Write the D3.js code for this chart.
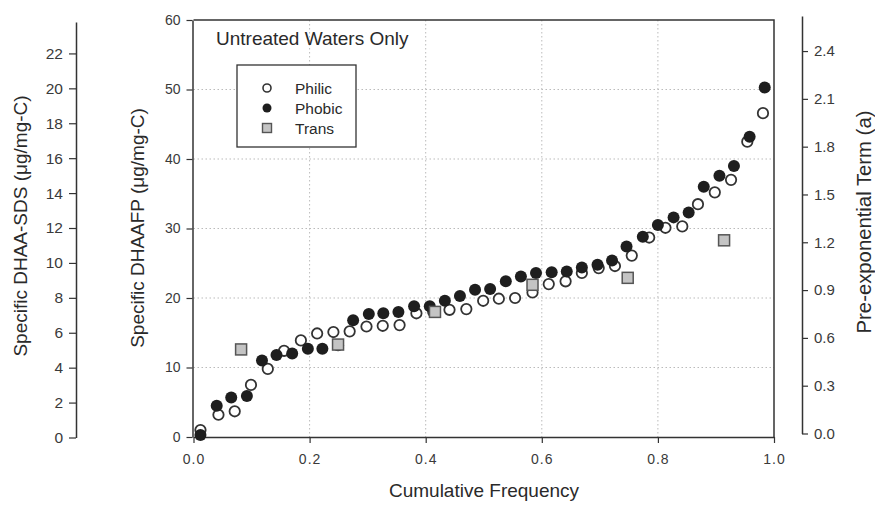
<!DOCTYPE html>
<html>
<head>
<meta charset="utf-8">
<script src="https://cdn.jsdelivr.net/npm/d3@7"></script>
<style>
  body { margin: 0; background: #fff; }
  svg { display: block; font-family: "Liberation Sans", Arial, sans-serif; }
</style>
</head>
<body>
<svg id="chart"></svg>
<script>
// [cumulative frequency, specific DHAAFP]
const philic = [
  [0.012, 1.0], [0.043, 3.2], [0.071, 3.7], [0.099, 7.5], [0.128, 9.8],
  [0.156, 12.4], [0.185, 13.9], [0.213, 14.9], [0.241, 15.1], [0.269, 15.2],
  [0.298, 15.9], [0.326, 16.0], [0.355, 16.1], [0.384, 17.8], [0.413, 18.0],
  [0.441, 18.3], [0.470, 18.4], [0.499, 19.6], [0.526, 19.9], [0.554, 20.0],
  [0.584, 20.8], [0.612, 22.0], [0.641, 22.4], [0.669, 23.6], [0.698, 24.3],
  [0.726, 24.6], [0.755, 26.1], [0.785, 28.7], [0.813, 30.1], [0.842, 30.3],
  [0.869, 33.5], [0.898, 35.2], [0.926, 37.0], [0.954, 42.5], [0.981, 46.6]
];
const phobic = [
  [0.012, 0.3], [0.040, 4.5], [0.065, 5.7], [0.092, 5.9], [0.118, 11.0],
  [0.143, 11.8], [0.170, 12.0], [0.197, 12.7], [0.222, 12.7], [0.249, 13.2],
  [0.275, 16.8], [0.302, 17.7], [0.327, 17.8], [0.353, 18.0], [0.380, 18.8],
  [0.407, 18.8], [0.433, 19.6], [0.459, 20.3], [0.485, 21.2], [0.511, 21.3],
  [0.538, 22.4], [0.564, 23.1], [0.590, 23.6], [0.617, 23.7], [0.643, 23.8],
  [0.669, 24.4], [0.696, 24.8], [0.721, 25.4], [0.746, 27.4], [0.774, 28.8],
  [0.800, 30.5], [0.827, 31.6], [0.853, 32.3], [0.879, 36.0], [0.906, 37.6],
  [0.931, 39.0], [0.958, 43.2], [0.984, 50.3]
];
const trans = [
  [0.082, 12.6], [0.249, 13.3], [0.416, 18.0], [0.584, 21.9], [0.748, 22.9], [0.914, 28.3]
];

const xTicks = [0, 0.2, 0.4, 0.6, 0.8, 1.0];
const yTicks = [0, 10, 20, 30, 40, 50, 60];
const sdsTicks = [0, 2, 4, 6, 8, 10, 12, 14, 16, 18, 20, 22];
const aTicks = [0, 0.3, 0.6, 0.9, 1.2, 1.5, 1.8, 2.1, 2.4];
const legendItems = ['Philic', 'Phobic', 'Trans'];

const width = 875, height = 505;
const ink = '#333';
const textInk = '#2a2a2a';

const svg = d3.select('#chart').attr('width', width).attr('height', height);

const x = d3.scaleLinear().domain([0, 1]).range([193.5, 774]);
const y = d3.scaleLinear().domain([0, 60]).range([437, 20]);
const ySds = d3.scaleLinear().domain([0, 23.8]).range([437.5, 22]);
const yA = d3.scaleLinear().domain([0, 2.62]).range([433.5, 16]);

// grid lines (dotted)
const grid = svg.append('g').attr('stroke', '#bbb').attr('stroke-dasharray', '1.5,2.5').attr('stroke-width', 1);
grid.selectAll('.gx').data(xTicks.slice(1, -1)).join('line')
  .attr('x1', d => x(d)).attr('x2', d => x(d)).attr('y1', y(60)).attr('y2', y(0));
grid.selectAll('.gy').data(yTicks.slice(1, -1)).join('line')
  .attr('x1', x(0)).attr('x2', x(1)).attr('y1', d => y(d)).attr('y2', d => y(d));

// frame top/right
svg.append('path')
  .attr('d', `M${x(0)},${y(60)}H${x(1)}V${y(0)}`)
  .attr('fill', 'none').attr('stroke', ink).attr('stroke-width', 1.5);

function styleAxis(g, size, spacing) {
  g.select('.domain').attr('stroke', ink).attr('stroke-width', 1.5);
  g.selectAll('.tick line').attr('stroke', ink).attr('stroke-width', 1.2);
  g.selectAll('.tick text').attr('fill', '#3a3a3a').attr('font-size', size + 'px')
    .attr('letter-spacing', spacing || null);
}

// bottom axis
svg.append('g')
  .attr('transform', `translate(0,${y(0)})`)
  .call(d3.axisBottom(x).tickValues(xTicks).tickFormat(d3.format('.1f')).tickSize(6).tickSizeOuter(0).tickPadding(11))
  .attr('font-family', null)
  .call(styleAxis, 14, '1px');

// main left axis
svg.append('g')
  .attr('transform', `translate(${x(0) - 1},0)`)
  .call(d3.axisLeft(y).tickValues(yTicks).tickSize(6).tickSizeOuter(0).tickPadding(6))
  .attr('font-family', null)
  .call(styleAxis, 14);

// outer left axis
svg.append('g')
  .attr('transform', 'translate(76,0)')
  .call(d3.axisLeft(ySds).tickValues(sdsTicks).tickSize(7).tickSizeOuter(0).tickPadding(6))
  .attr('font-family', null)
  .call(styleAxis, 15.5);

// right axis
svg.append('g')
  .attr('transform', 'translate(802,0)')
  .call(d3.axisRight(yA).tickValues(aTicks).tickFormat(d3.format('.1f')).tickSize(6).tickSizeOuter(0).tickPadding(6))
  .attr('font-family', null)
  .call(styleAxis, 15);

// axis titles
const title = (tx, ty, rot, txt, size) => svg.append('text')
  .attr('transform', `translate(${tx},${ty}) rotate(${rot})`)
  .attr('text-anchor', 'middle').attr('font-size', (size || 19) + 'px').attr('fill', textInk)
  .text(txt);
title(484, 497, 0, 'Cumulative Frequency');
title(27, 226, -90, 'Specific DHAA-SDS (\u03bcg/mg-C)');
title(144, 228, -90, 'Specific DHAAFP (\u03bcg/mg-C)');
title(871, 222, -90, 'Pre-exponential Term (a)', 20.3);

svg.append('text')
  .attr('x', 216).attr('y', 45)
  .attr('font-size', '19px').attr('fill', textInk)
  .text('Untreated Waters Only');

// points
svg.append('g').selectAll('circle').data(philic).join('circle')
  .attr('cx', d => x(d[0])).attr('cy', d => y(d[1])).attr('r', 5.2)
  .attr('fill', '#fff').attr('stroke', '#333').attr('stroke-width', 1.8);

svg.append('g').selectAll('circle').data(phobic).join('circle')
  .attr('cx', d => x(d[0])).attr('cy', d => y(d[1])).attr('r', 6)
  .attr('fill', '#1e1e1e');

svg.append('g').selectAll('rect').data(trans).join('rect')
  .attr('x', d => x(d[0]) - 5.5).attr('y', d => y(d[1]) - 5.5)
  .attr('width', 11).attr('height', 11)
  .attr('fill', '#c4c4c4').attr('stroke', '#555').attr('stroke-width', 1.5);

// legend
const legend = svg.append('g');
legend.append('rect')
  .attr('x', 237).attr('y', 65).attr('width', 119).attr('height', 82)
  .attr('fill', '#fff').attr('stroke', ink).attr('stroke-width', 1.3);
const li = legend.selectAll('g.item').data(legendItems).join('g')
  .attr('class', 'item')
  .attr('transform', (d, i) => `translate(267,${88 + i * 20})`);
li.each(function(d, i) {
  const g = d3.select(this);
  if (i === 0) g.append('circle').attr('r', 4).attr('fill', '#fff').attr('stroke', '#333').attr('stroke-width', 1.6);
  if (i === 1) g.append('circle').attr('r', 4.5).attr('fill', '#1e1e1e');
  if (i === 2) g.append('rect').attr('x', -4.5).attr('y', -4.5).attr('width', 9).attr('height', 9)
    .attr('fill', '#c4c4c4').attr('stroke', '#555').attr('stroke-width', 1.4);
  g.append('text').attr('x', 28).attr('y', 5.5).attr('font-size', '15.5px').attr('fill', textInk).text(d);
});
</script>
</body>
</html>
